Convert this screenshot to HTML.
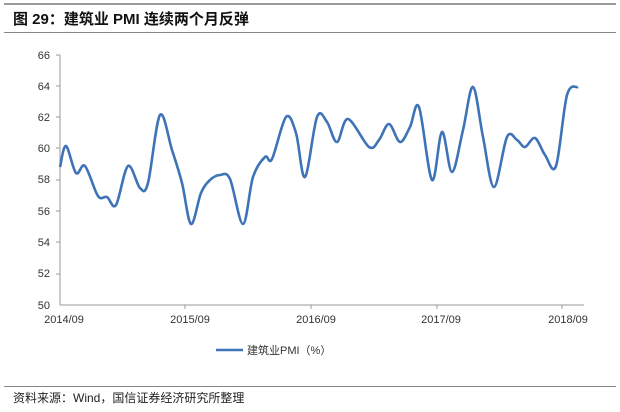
<!DOCTYPE html>
<html><head><meta charset="utf-8"><style>
body{margin:0;background:#fff;width:620px;height:407px;overflow:hidden;font-family:"Liberation Sans","Noto Sans CJK SC",sans-serif}
</style></head><body>
<svg width="620" height="407" xmlns="http://www.w3.org/2000/svg" font-family="Liberation Sans, Noto Sans CJK SC, sans-serif">
<rect x="4" y="3" width="612" height="2" fill="#9a9a9a"/>
<text x="13" y="24" font-size="15" font-weight="bold" fill="#111">图 29：建筑业 PMI 连续两个月反弹</text>
<rect x="4" y="32" width="612" height="1" fill="#888"/>
<g font-size="11" fill="#333" text-anchor="end">
<text x="50" y="59">66</text><text x="50" y="90">64</text><text x="50" y="121">62</text><text x="50" y="152">60</text><text x="50" y="183">58</text><text x="50" y="215">56</text><text x="50" y="246">54</text><text x="50" y="277">52</text><text x="50" y="309">50</text>
</g>
<g stroke="#999" stroke-width="1">
<line x1="60" y1="55" x2="60" y2="305"/>
<line x1="60" y1="305" x2="584" y2="305"/>
<line x1="56" y1="55" x2="60" y2="55"/><line x1="56" y1="86" x2="60" y2="86"/><line x1="56" y1="117" x2="60" y2="117"/><line x1="56" y1="148" x2="60" y2="148"/><line x1="56" y1="180" x2="60" y2="180"/><line x1="56" y1="211" x2="60" y2="211"/><line x1="56" y1="242" x2="60" y2="242"/><line x1="56" y1="274" x2="60" y2="274"/>
<line x1="185" y1="305" x2="185" y2="309"/><line x1="311" y1="305" x2="311" y2="309"/><line x1="437" y1="305" x2="437" y2="309"/><line x1="562" y1="305" x2="562" y2="309"/>
</g>
<g font-size="11" fill="#333" text-anchor="middle">
<text x="64" y="323">2014/09</text><text x="190" y="323">2015/09</text><text x="316" y="323">2016/09</text><text x="441" y="323">2017/09</text><text x="568" y="323">2018/09</text>
</g>
<path id="p" fill="none" stroke="#3f73b8" stroke-width="2.6" stroke-linejoin="round"/>
<line x1="216" y1="350" x2="243" y2="350" stroke="#3f73b8" stroke-width="2.6"/>
<text x="247" y="354" font-size="11" fill="#333">建筑业PMI（%）</text>
<rect x="4" y="386" width="612" height="1" fill="#888"/>
<text x="13" y="402" font-size="12" fill="#222">资料来源：Wind，国信证券经济研究所整理</text>
</svg>
<script>
var pts=[[60,167],[66,146],[76,173],[85,166],[98,196],[107,197],[116,205],[128,166],[140,188],[148,183],[160,115],[172,150],[182,183],[191,224],[201,193],[210,180],[220,175],[230,179],[243,224],[253,177],[265,157],[272,159],[286,117],[296,133],[305,177],[317,117],[327,122],[337,142],[348,119],[369,147],[379,140],[389,124],[400,142],[410,127],[419,107],[432,180],[442,132],[452,172],[463,130],[473,87],[483,137],[494,187],[507,137],[517,140],[525,147],[535,138],[545,155],[556,166],[567,95],[578,87]];
var d="M"+pts[0][0]+","+pts[0][1];
for(var i=0;i<pts.length-1;i++){var p0=pts[Math.max(i-1,0)],p1=pts[i],p2=pts[i+1],p3=pts[Math.min(i+2,pts.length-1)];
var c1x=p1[0]+(p2[0]-p0[0])/6,c1y=p1[1]+(p2[1]-p0[1])/6,c2x=p2[0]-(p3[0]-p1[0])/6,c2y=p2[1]-(p3[1]-p1[1])/6;
d+=" C"+c1x+","+c1y+" "+c2x+","+c2y+" "+p2[0]+","+p2[1];}
document.getElementById("p").setAttribute("d",d);
</script>
</body></html>
